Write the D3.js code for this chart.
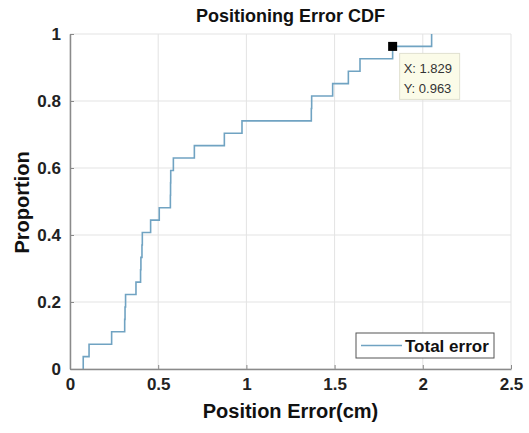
<!DOCTYPE html>
<html>
<head>
<meta charset="utf-8">
<script src="https://cdn.jsdelivr.net/npm/d3@7"></script>
<style>
  body { margin: 0; background: #fff; }
  text { font-family: "Liberation Sans", Arial, sans-serif; }
</style>
</head>
<body>
<svg width="529" height="433"></svg>
<script>
// sorted position errors (cm), 27 samples
const errors = [0.075, 0.108, 0.236, 0.310, 0.312, 0.315, 0.374, 0.400, 0.402,
  0.408, 0.410, 0.457, 0.506, 0.569, 0.570, 0.571, 0.586, 0.705, 0.875, 0.975,
  1.368, 1.370, 1.489, 1.578, 1.644, 1.829, 2.050];
const xTicks = [0, 0.5, 1, 1.5, 2, 2.5];
const yTicks = [0, 0.2, 0.4, 0.6, 0.8, 1];
const tipPoint = { x: 1.829, y: 0.963 };

const margin = { left: 70, right: 18, top: 34, bottom: 64 };
const width = 529, height = 433;

const svg = d3.select('svg');

const xScale = d3.scaleLinear().domain([0, 2.5]).range([margin.left, width - margin.right]);
const yScale = d3.scaleLinear().domain([0, 1]).range([height - margin.bottom, margin.top]);

// grid
svg.append('g')
  .selectAll('line.gx')
  .data(xTicks)
  .enter().append('line')
  .attr('x1', d => xScale(d)).attr('x2', d => xScale(d))
  .attr('y1', yScale(0)).attr('y2', yScale(1))
  .attr('stroke', '#e3e3e3');
svg.append('g')
  .selectAll('line.gy')
  .data(yTicks)
  .enter().append('line')
  .attr('x1', xScale(0)).attr('x2', xScale(2.5))
  .attr('y1', d => yScale(d)).attr('y2', d => yScale(d))
  .attr('stroke', '#e3e3e3');

// cdf points
const n = errors.length;
const pts = [[errors[0], 0]].concat(errors.map((e, i) => [e, (i + 1) / n]));

const line = d3.line()
  .x(d => xScale(d[0]))
  .y(d => yScale(d[1]))
  .curve(d3.curveStepAfter);

svg.append('path')
  .datum(pts)
  .attr('d', line)
  .attr('fill', 'none')
  .attr('stroke', '#70a3c2')
  .attr('stroke-width', 1.6);

// axes
const xAxis = svg.append('g')
  .attr('transform', 'translate(0,' + yScale(0) + ')')
  .call(d3.axisBottom(xScale).tickValues(xTicks).tickFormat(d3.format('')).tickSizeInner(-4).tickSizeOuter(0).tickPadding(9));
const yAxis = svg.append('g')
  .attr('transform', 'translate(' + xScale(0) + ',0)')
  .call(d3.axisLeft(yScale).tickValues(yTicks).tickFormat(d3.format('')).tickSizeInner(-4).tickSizeOuter(0).tickPadding(9));

[xAxis, yAxis].forEach(ax => {
  ax.select('.domain').attr('stroke', '#8a8a8a').attr('stroke-width', 1.5);
  ax.selectAll('.tick line').attr('stroke', '#8a8a8a');
  ax.selectAll('.tick text')
    .attr('fill', '#222')
    .style('font-size', '17px')
    .style('font-weight', 'bold');
});

// title and labels
svg.append('text')
  .attr('x', (xScale(0) + xScale(2.5)) / 2).attr('y', 22)
  .attr('text-anchor', 'middle')
  .style('font-size', '18px').style('font-weight', 'bold').attr('fill', '#111')
  .text('Positioning Error CDF');
svg.append('text')
  .attr('x', (xScale(0) + xScale(2.5)) / 2).attr('y', 418)
  .attr('text-anchor', 'middle')
  .style('font-size', '20px').style('font-weight', 'bold').attr('fill', '#111')
  .text('Position Error(cm)');
svg.append('text')
  .attr('transform', 'translate(29,' + (yScale(0.5) + 1) + ') rotate(-90)')
  .attr('text-anchor', 'middle')
  .style('font-size', '20px').style('font-weight', 'bold').attr('fill', '#111')
  .text('Proportion');

// legend
const lg = svg.append('g');
lg.append('rect')
  .attr('x', 356).attr('y', 333).attr('width', 138).attr('height', 25)
  .attr('fill', '#fff').attr('stroke', '#555').attr('stroke-width', 1);
lg.append('line')
  .attr('x1', 361).attr('x2', 402).attr('y1', 345.5).attr('y2', 345.5)
  .attr('stroke', '#70a3c2').attr('stroke-width', 1.6);
lg.append('text')
  .attr('x', 405).attr('y', 352)
  .style('font-size', '17px').style('font-weight', 'bold').attr('fill', '#111')
  .text('Total error');

// data tip
const tx = xScale(tipPoint.x), ty = yScale(tipPoint.y);
svg.append('rect')
  .attr('x', tx - 4.5).attr('y', ty - 4.5).attr('width', 9).attr('height', 9)
  .attr('fill', '#000');
const tip = svg.append('g').attr('transform', 'translate(' + (tx + 7) + ',' + (ty + 7) + ')');
tip.append('rect')
  .attr('width', 60).attr('height', 46)
  .attr('fill', '#fbfbe8').attr('stroke', '#e0e0d0');
tip.append('text').attr('x', 4).attr('y', 20)
  .style('font-size', '13px').attr('fill', '#333').text('X: ' + tipPoint.x);
tip.append('text').attr('x', 4).attr('y', 40)
  .style('font-size', '13px').attr('fill', '#333').text('Y: ' + tipPoint.y);
</script>
</body>
</html>
